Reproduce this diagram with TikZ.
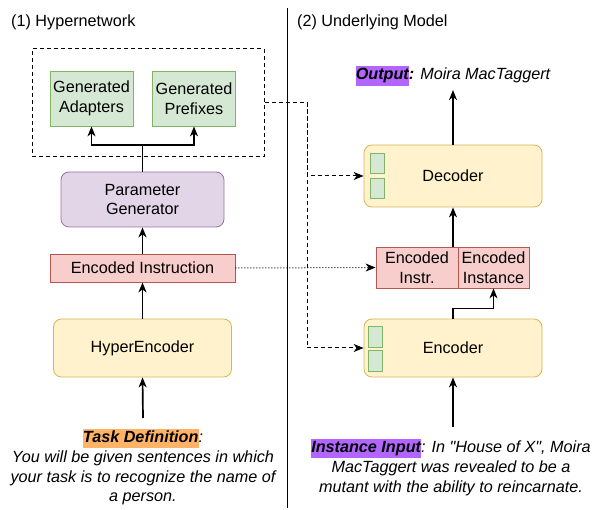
\documentclass[tikz,border=0pt]{standalone}
\usepackage{fontspec}
\setmainfont{Liberation Sans}
\newfontfamily\quotefont{Liberation Sans}
\usepackage{tikz}
\usetikzlibrary{calc, arrows.meta}
\definecolor{genfill}{HTML}{D5E8D4}\definecolor{genline}{HTML}{82B366}
\definecolor{pgfill}{HTML}{E1D5E7}\definecolor{pgline}{HTML}{9673A6}
\definecolor{yfill}{HTML}{FFF2CC}\definecolor{yline}{HTML}{D6B656}
\definecolor{rfill}{HTML}{F8CECC}\definecolor{rline}{HTML}{B85450}
\definecolor{hlpurple}{HTML}{B266FF}\definecolor{hlorange}{HTML}{FFB366}
\newcommand{\hlbox}[2]{{\setlength{\fboxsep}{0pt}\colorbox{#1}{\strut#2}}}
\newcommand{\sq}{{\quotefont\itshape"}}

\begin{document}
\begin{tikzpicture}[x=1pt, y=-1pt,
        every node/.style={font=\fontsize{16.2}{19.8}\selectfont, inner sep=1pt},
        genbox/.style={draw=genline, fill=genfill, line width=0.8pt, minimum width=83, minimum height=55, align=center},
        pgbox/.style={draw=pgline, fill=pgfill, line width=0.8pt, rounded corners=8, minimum width=163, minimum height=55, align=center},
        ybox/.style={draw=yline, fill=yfill, line width=0.8pt, rounded corners=8, minimum width=178, minimum height=58},
        rbox/.style={draw=rline, fill=rfill, line width=0.8pt, align=center},
        slot/.style={draw=genline, fill=genfill, line width=0.8pt, minimum width=14, minimum height=20, inner sep=0},
        arr/.style={-{Stealth[length=10pt, width=8pt, inset=3pt]}, line width=1.2pt},
        thick arr/.style={arr, line width=1.7pt},
        dsh/.style={dash pattern=on 4pt off 3pt, line width=1pt}]
        \useasboundingbox (0,0) rectangle (595,510);

        \node[anchor=west] (title1) at (10,22) {(1) Hypernetwork};
        \node[anchor=west] (title2) at (296,22) {(2) Underlying Model};
        \draw[line width=1pt] (287,8) -- (287,508);

        \node[draw, dsh, minimum width=232, minimum height=108] (paramset) at (148,103) {};
        \node[genbox] (adapters) at (91.5,98.5) {Generated\\Adapters};
        \node[genbox] (prefixes) at (194,98.5) {Generated\\Prefixes};
        \node[pgbox] (paramgen) at (142.5,199.5) {Parameter\\Generator};
        \node[rbox, minimum width=185, minimum height=28] (encinstr) at (142.5,268) {Encoded Instruction};
        \node[ybox] (hyperenc) at (142.5,348) {HyperEncoder};
        \node[align=center, font=\fontsize{16.2}{19.8}\selectfont\itshape] (taskdef) at (143,467)
            {\hlbox{hlorange}{\textbf{Task Definition}}:\\You will be given sentences in which\\your task is to recognize the name of\\a person.};
        \coordinate (taskin) at (143,418);
        \coordinate (split) at (142.5,145);

        \draw[thick arr] (taskin) -- (hyperenc.south);
        \draw[thick arr] (hyperenc.north) -- (encinstr.south);
        \draw[thick arr] (encinstr.north) -- (paramgen.south);
        \draw[arr] (paramgen.north) -- (split) -| (adapters.south);
        \draw[arr] (split) -| (prefixes.south);

        \node[font=\fontsize{16.2}{19.8}\selectfont\itshape] (output) at (453,76) {\hlbox{hlpurple}{\textbf{Output}}\textbf{:} Moira MacTaggert};
        \node[ybox, minimum height=62] (decoder) at (453,176) {Decoder};
        \node[slot] (decslota) at (377.5,163) {};
        \node[slot] (decslotb) at (377.5,188) {};
        \node[rbox, minimum width=82, minimum height=41] (encpart) at (417,267.5) {Encoded\\Instr.};
        \node[rbox, minimum width=71, minimum height=41] (instpart) at (493.5,267.5) {Encoded\\Instance};
        \node[ybox] (encoder) at (453,348) {Encoder};
        \node[slot, minimum height=21] (encslota) at (375,336.5) {};
        \node[slot, minimum height=21] (encslotb) at (375,360.5) {};
        \node[align=center, font=\fontsize{16.2}{19.8}\selectfont\itshape] (instinput) at (451,467)
            {\hlbox{hlpurple}{\textbf{Instance Input}}: In \sq House of X\sq, Moira\\MacTaggert was revealed to be a\\mutant with the ability to reincarnate.};
        \coordinate (instin) at (453,427);
        \coordinate (bus) at (307,103);

        \draw[arr] (instin) -- (encoder.south);
        \draw[arr] (encoder.north) -- ++(0,-10) -| (instpart.south);
        \draw[arr] (decoder.south |- encpart.north) -- (decoder.south);
        \draw[arr, shorten >=3pt] (decoder.north) -- (output.south);
        \draw[dsh, -{Stealth[length=10pt, width=8pt, inset=3pt]}] (paramset.east) -- (bus) |- (decoder.west);
        \draw[dsh, -{Stealth[length=10pt, width=8pt, inset=3pt]}] (bus) |- (encoder.west);
        \draw[dotted, line width=1pt, -{Stealth[length=10pt, width=8pt, inset=3pt]}] (encinstr.east) -- (encpart.west);
\end{tikzpicture}
\end{document}
